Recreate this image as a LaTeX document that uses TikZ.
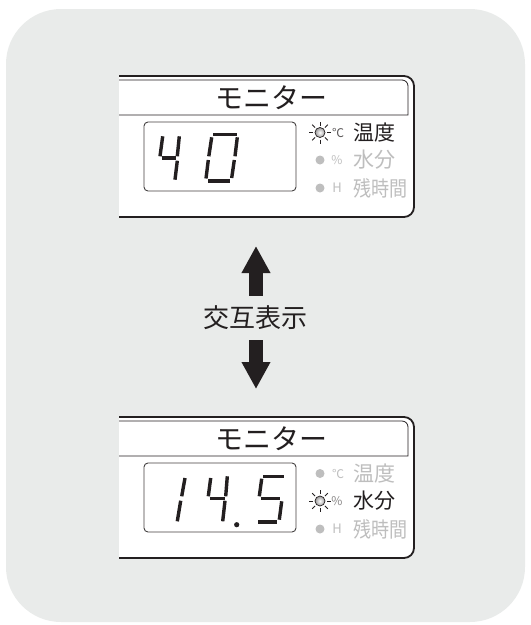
\documentclass[tikz,border=0pt]{standalone}
\usepackage{fontspec}
\newfontfamily\jpfont{Noto Sans CJK JP}
\usepackage{tikz}
\usetikzlibrary{arrows.meta, positioning, calc}
\usepackage{xcolor}
\definecolor{bggray}{RGB}{233,235,234}
\definecolor{ink}{RGB}{35,31,32}
\definecolor{dimtxt}{RGB}{190,190,190}

\begin{document}
\begin{tikzpicture}[x=1pt, y=-1pt,
    frame/.style={draw=ink, line width=1.8pt, fill=white, rounded corners=10pt},
    titlebox/.style={draw=ink, line width=0.8pt},
    screen/.style={draw=ink!85, line width=0.9pt, rounded corners=4pt},
    seg/.style={draw=ink, line width=3.4pt},
    title/.style={font=\jpfont\fontsize{28}{28}\selectfont, text=ink, inner sep=0pt},
    lbl/.style={font=\jpfont\fontsize{21}{21}\selectfont, anchor=west, inner sep=0pt},
    unit/.style={font=\jpfont\fontsize{12}{12}\selectfont, inner sep=0pt},
    dot/.style={circle, fill=dimtxt, minimum size=9pt, inner sep=0pt},
    lit/.style={circle, draw=ink, line width=0.7pt, inner color=white, outer color=ink!45, minimum size=10pt, inner sep=0pt},
    ray/.style={draw=ink, line width=0.9pt},
    bigarrow/.style={line width=14pt, draw=ink, -{Triangle[length=27pt 0 0, width=27pt 0 0]}}
]
    \useasboundingbox (0,0) rectangle (531,625);
    \fill[bggray, rounded corners=55pt] (6,9) rectangle (525,622);

    % upper panel: temperature
    \draw[frame] (119,76) -- (414,76) -- (414,217) -- (119,217);
    \draw[titlebox] (119,80) -- (402,80) arc[start angle=-90, end angle=0, radius=6] -- (408,115) -- (119,115);
    \node[title] (title1) at (271,97.5) {モニター};
    \draw[screen] (144,122) rectangle (296,191);
    % 4
    \draw[seg] (162.7,136.3) -- (160,156.3);
    \draw[seg] (161.5,158) -- (176,158);
    \draw[seg] (179.3,136.3) -- (177.3,156.3);
    \draw[seg] (177.3,160.7) -- (175,179.7);
    % 0
    \draw[seg] (213.3,134.5) -- (236.7,134.5);
    \draw[seg] (211.7,137.3) -- (208.8,156.3);
    \draw[seg] (237.3,137.3) -- (235,156.3);
    \draw[seg] (208.3,160) -- (206,178.5);
    \draw[seg] (234.3,160) -- (231.7,178);
    \draw[seg] (208.3,181) -- (230,181);
    % indicators
    \node[lit] (sun1) at (320,132.5) {};
    \foreach \a in {0,45,...,315}
        \draw[ray] ($(sun1)+(\a:7)$) -- ($(sun1)+(\a:11)$);
    \node[unit, text=ink!75] (degc1) at (338,132.5) {℃};
    \node[lbl, text=ink] (temp1) at (353,132.5) {温度};
    \node[dot] (dot1a) at (320,160) {};
    \node[unit, text=dimtxt] (pct1) at (337,160) {\%};
    \node[lbl, text=dimtxt] (moist1) at (353,160) {水分};
    \node[dot] (dot1b) at (320,188) {};
    \node[unit, text=dimtxt, font=\jpfont\fontsize{13}{13}\selectfont] (hr1) at (337,188) {H};
    \node[lbl, text=dimtxt, xscale=0.86, transform shape] (rest1) at (353,188) {残時間};

    % switching
    \node[title, font=\jpfont\fontsize{26}{26}\selectfont] (swap) at (255,318) {交互表示};
    \coordinate (upTip) at (256,246);
    \coordinate (dnTip) at (256,389);
    \draw[bigarrow, shorten <=10pt] (swap.north -| upTip) -- (upTip);
    \draw[bigarrow, shorten <=10pt] (swap.south -| dnTip) -- (dnTip);

    % lower panel: moisture
    \begin{scope}[shift={(0,341)}]
    \draw[frame] (119,76) -- (414,76) -- (414,217) -- (119,217);
    \draw[titlebox] (119,80) -- (402,80) arc[start angle=-90, end angle=0, radius=6] -- (408,115) -- (119,115);
    \node[title] (title2) at (271,97.5) {モニター};
    \draw[screen] (144,122) rectangle (296,191);
    % 1
    \draw[seg] (185,137) -- (181.7,155.3);
    \draw[seg] (180.7,159.7) -- (177.3,180.3);
    % 4
    \draw[seg] (210.7,137) -- (208.3,155.3);
    \draw[seg] (209.5,157.7) -- (225,157.7);
    \draw[seg] (227.3,135.3) -- (225.7,155.3);
    \draw[seg] (225,159.7) -- (222.7,180.3);
    \fill[ink] (236.7,183.7) circle[radius=2.6];
    % 5
    \draw[seg] (263.3,135.3) -- (284,135.3);
    \draw[seg] (261.7,137.7) -- (259.3,155.3);
    \draw[seg] (260.7,157.7) -- (280,157.7);
    \draw[seg] (281.7,160.3) -- (279.3,178.7);
    \draw[seg] (258.3,181) -- (277.3,181);
    % indicators
    \node[dot] (dot2a) at (320,132.5) {};
    \node[unit, text=dimtxt] (degc2) at (338,132.5) {℃};
    \node[lbl, text=dimtxt] (temp2) at (353,132.5) {温度};
    \node[lit] (sun2) at (320,160) {};
    \foreach \a in {0,45,...,315}
        \draw[ray] ($(sun2)+(\a:7)$) -- ($(sun2)+(\a:11)$);
    \node[unit, text=ink!55] (pct2) at (337,160) {\%};
    \node[lbl, text=ink] (moist2) at (353,160) {水分};
    \node[dot] (dot2b) at (320,188) {};
    \node[unit, text=dimtxt, font=\jpfont\fontsize{13}{13}\selectfont] (hr2) at (337,188) {H};
    \node[lbl, text=dimtxt, xscale=0.86, transform shape] (rest2) at (353,188) {残時間};
    \end{scope}
\end{tikzpicture}
\end{document}
